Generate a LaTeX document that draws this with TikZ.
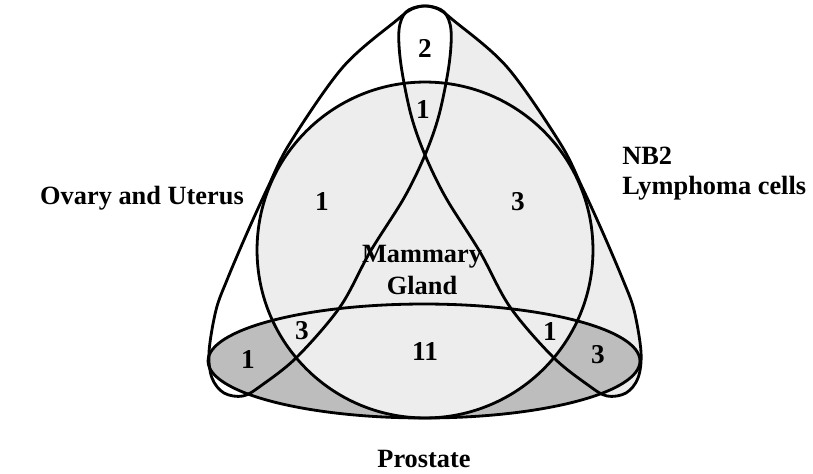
\documentclass[tikz,border=0pt]{standalone}
\usepackage{fontspec}
\setmainfont{Liberation Serif}
\usetikzlibrary{positioning}
\definecolor{lightdots}{gray}{0.93}
\definecolor{densedots}{gray}{0.74}

\tikzset{
  leaf/.pic={
    \path[pic actions] plot[smooth cycle, tension=0.55] coordinates {
      (397,20) (412,9) (428,6) (444,12) (451,30) (449,65) (439,115) (425,155)
      (404,198) (370,252) (340,307) (297,357) (262,385) (243,396) (224,393)
      (212,378) (209,352) (216,310) (227,280) (247,233) (268,187) (290,143) (343,67)};
  }
}

\begin{document}
\begin{tikzpicture}[x=0.02cm, y=-0.02cm,
  outline/.style={draw=black, line width=1.6pt},
  setname/.style={font=\bfseries\fontsize{15}{17}\selectfont, inner sep=0pt},
  count/.style={font=\bfseries\fontsize{15.5}{17}\selectfont, inner sep=0pt}]
  \useasboundingbox (0,0) rectangle (813,473);
  % shading first, outlines on top
  \pic[xscale=-1, fill=lightdots] at (850,0) {leaf};
  \pic[fill=white] at (0,0) {leaf};
  \fill[densedots] (424,361) ellipse [x radius=4.32cm, y radius=1.14cm];
  \fill[lightdots] (425,250) circle [radius=3.36cm];
  \pic[outline] at (0,0) {leaf};
  \pic[outline, xscale=-1] at (850,0) {leaf};
  \draw[outline] (424,361) ellipse [x radius=4.32cm, y radius=1.14cm];
  \draw[outline] (425,250) circle [radius=3.36cm];
  % set names
  \node[setname] (ovary) at (142,198) {Ovary and Uterus};
  \node[setname, align=left, anchor=west] (nb2) at (622,174) {NB2\\Lymphoma cells};
  \node[setname, align=center, font=\bfseries\fontsize{15}{18}\selectfont] (mammary) at (422,270) {Mammary\\Gland};
  \node[setname] (prostate) at (424,459) {Prostate};
  % region counts
  \foreach \id/\x/\y/\v in {a/425/48/2, b/423/110/1, c/322/202/1, d/518/202/3,
      e/425/352/11, f/302/331/3, g/248/360/1, h/550/332/1, i/598/355/3}
    \node[count] (n\id) at (\x,\y) {\v};
\end{tikzpicture}
\end{document}
